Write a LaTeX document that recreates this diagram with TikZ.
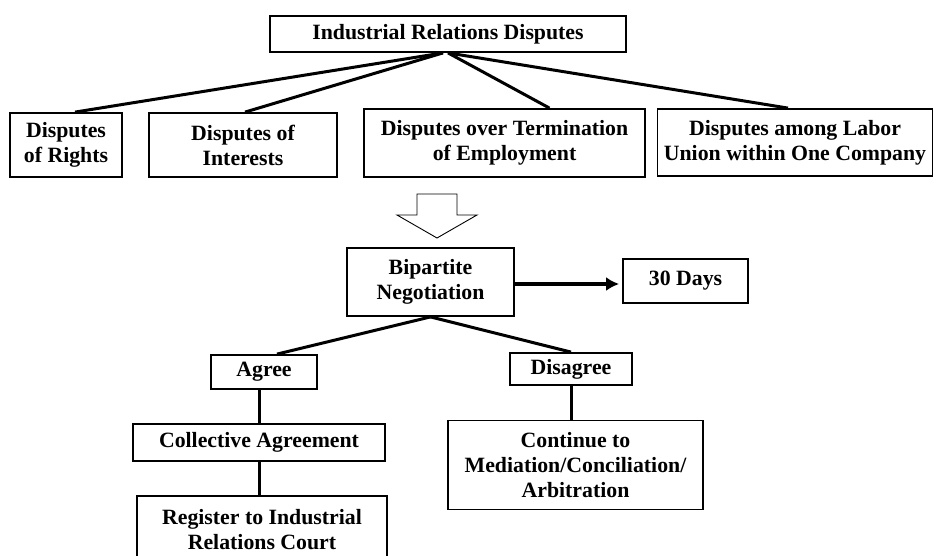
\documentclass[tikz,border=0pt]{standalone}
\usepackage{fontspec}
\setmainfont{Liberation Serif}
\usepackage{tikz}
\usetikzlibrary{arrows.meta}
\tikzset{
	dbox/.style={draw, line width=1.8pt, align=center, inner sep=0pt, font=\bfseries\fontsize{21.8}{25}\selectfont},
	link/.style={line width=3pt}
}

\begin{document}
\begin{tikzpicture}[x=1pt, y=-1pt]
			%%%%% START %%%%%
			\useasboundingbox (0, 0) rectangle (936, 556);
			
			\node[dbox, minimum width=356, minimum height=36] (top) at (448, 34) {Industrial Relations Disputes};
			
			\node[dbox, minimum width=112, minimum height=64] (rights) at (66, 145) {Disputes\\of Rights};
			\node[dbox, minimum width=188, minimum height=64] (interests) at (243, 145) {Disputes of\\Interests};
			\node[dbox, minimum width=281, minimum height=68] (term) at (504.5, 143) {Disputes over Termination\\of Employment};
			\node[dbox, minimum width=275, minimum height=67] (union) at (795, 142.5) {Disputes among Labor\\Union within One Company};
			
			\draw[link] ([xshift=-5]top.south) -- ([xshift=9]rights.north);
			\draw[link] ([xshift=-5]top.south) -- ([xshift=2]interests.north);
			\draw[link] (top.south) -- ([xshift=45]term.north);
			\draw[link] (top.south) -- ([xshift=-7]union.north);
			
			% hollow arrow
			\draw[line width=0.9pt] (417, 194) -- (457, 194) -- (457, 215) -- (477, 215) -- (437, 238) -- (397, 215) -- (417, 215) -- cycle;
			
			\node[dbox, minimum width=167, minimum height=68] (bip) at (430.5, 282) {Bipartite\\Negotiation};
			\node[dbox, minimum width=125, minimum height=44] (days) at (685.5, 281) {30 Days};
			\draw[line width=4pt, -{Latex[length=13pt, width=14pt]}, shorten >=3pt] ([yshift=-2]bip.east) -- ([yshift=-2]bip.east -| days.west);
			
			\node[dbox, minimum width=106, minimum height=34] (agree) at (264, 372) {Agree};
			\node[dbox, minimum width=122, minimum height=32] (disagree) at (571, 369) {Disagree};
			\draw[link] (bip.south) -- ([xshift=13]agree.north);
			\draw[link] (bip.south) -- (disagree.north);
			
			\node[dbox, minimum width=252, minimum height=37] (coll) at (259, 442.5) {Collective Agreement};
			\node[dbox, minimum width=250, minimum height=68] (reg) at (262, 530) {Register to Industrial\\Relations Court};
			\node[dbox, minimum width=255, minimum height=89] (cont) at (575.5, 465) {Continue to\\Mediation/Conciliation/\\Arbitration};
			
			\draw[link] (coll.north) -- (coll.north |- agree.south);
			\draw[link] (coll.south) -- (reg.north -| coll.south);
			\draw[link] (disagree.south) -- (disagree.south |- cont.north);
			
			%%%%% END %%%%%
\end{tikzpicture}
\end{document}
